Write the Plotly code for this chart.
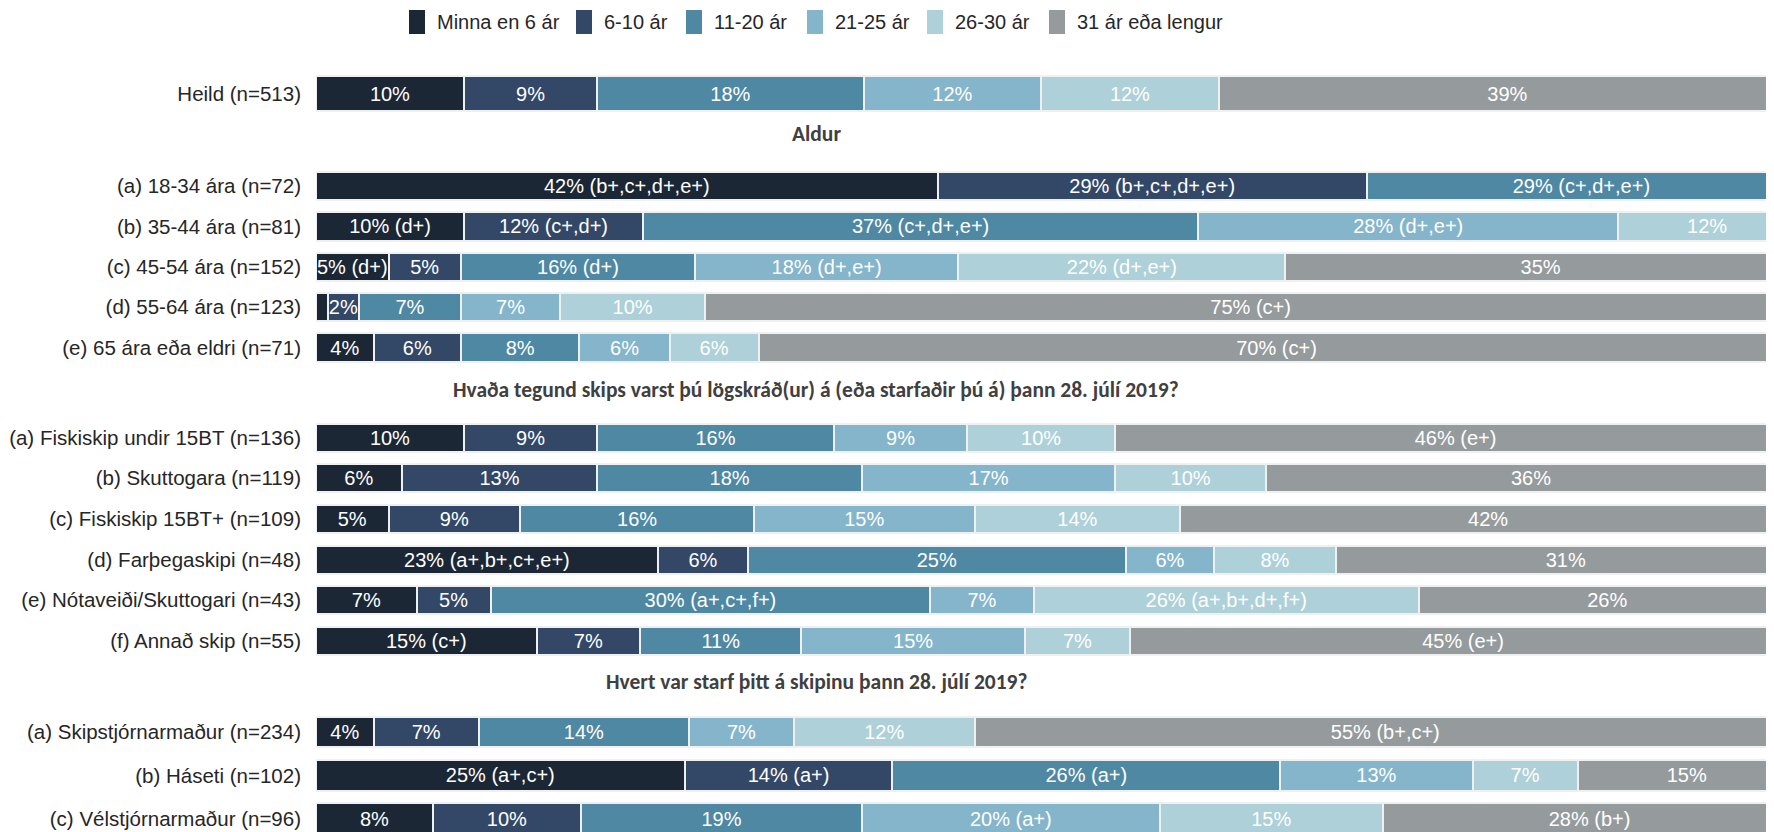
import plotly.graph_objects as go

# ---------------- data ----------------
series = ["Minna en 6 ár", "6-10 ár", "11-20 ár", "21-25 ár", "26-30 ár", "31 ár eða lengur"]

heild_rows = ["Heild (n=513)"]
heild_vals = [[10, 9, 18, 12, 12, 39]]
heild_text = [["10%", "9%", "18%", "12%", "12%", "39%"]]

aldur_title = "Aldur"
aldur_rows = ["(a) 18-34 ára (n=72)", "(b) 35-44 ára (n=81)", "(c) 45-54 ára (n=152)",
              "(d) 55-64 ára (n=123)", "(e) 65 ára eða eldri (n=71)"]
aldur_vals = [
    [42, 29, 29, 0, 0, 0],
    [10, 12.1, 37.5, 28.4, 12, 0],
    [4.9, 4.9, 15.8, 17.8, 22.1, 34.5],
    [0.8, 2.1, 6.9, 6.7, 9.8, 73.7],
    [3.9, 5.9, 8, 6.1, 6, 70],
]
aldur_text = [
    ["42% (b+,c+,d+,e+)", "29% (b+,c+,d+,e+)", "29% (c+,d+,e+)", "", "", ""],
    ["10% (d+)", "12% (c+,d+)", "37% (c+,d+,e+)", "28% (d+,e+)", "12%", ""],
    ["5% (d+)", "5%", "16% (d+)", "18% (d+,e+)", "22% (d+,e+)", "35%"],
    ["", "2%", "7%", "7%", "10%", "75% (c+)"],
    ["4%", "6%", "8%", "6%", "6%", "70% (c+)"],
]

skip_title = "Hvaða tegund skips varst þú lögskráð(ur) á (eða starfaðir þú á) þann 28. júlí 2019?"
skip_rows = ["(a) Fiskiskip undir 15BT (n=136)", "(b) Skuttogara (n=119)", "(c) Fiskiskip 15BT+ (n=109)",
             "(d) Farþegaskipi (n=48)", "(e) Nótaveiði/Skuttogari (n=43)", "(f) Annað skip (n=55)"]
skip_vals = [
    [10, 9, 16, 9, 10, 46],
    [5.8, 13.2, 17.9, 17.1, 10.2, 35.8],
    [4.9, 8.9, 15.8, 14.9, 13.9, 41.6],
    [23.1, 6.1, 25.5, 6.0, 8.2, 31.1],
    [6.8, 5.0, 29.7, 7.0, 26.0, 25.5],
    [14.9, 7.0, 10.9, 15.1, 7.1, 45],
]
skip_text = [
    ["10%", "9%", "16%", "9%", "10%", "46% (e+)"],
    ["6%", "13%", "18%", "17%", "10%", "36%"],
    ["5%", "9%", "16%", "15%", "14%", "42%"],
    ["23% (a+,b+,c+,e+)", "6%", "25%", "6%", "8%", "31%"],
    ["7%", "5%", "30% (a+,c+,f+)", "7%", "26% (a+,b+,d+,f+)", "26%"],
    ["15% (c+)", "7%", "11%", "15%", "7%", "45% (e+)"],
]

starf_title = "Hvert var starf þitt á skipinu þann 28. júlí 2019?"
starf_rows = ["(a) Skipstjórnarmaður (n=234)", "(b) Háseti (n=102)", "(c) Vélstjórnarmaður (n=96)"]
starf_vals = [
    [3.9, 7.1, 14.2, 7.1, 12.2, 55.5],
    [24.9, 14.05, 26.2, 13.0, 7.1, 14.75],
    [7.9, 10.0, 19.0, 20.1, 15.1, 27.9],
]
starf_text = [
    ["4%", "7%", "14%", "7%", "12%", "55% (b+,c+)"],
    ["25% (a+,c+)", "14% (a+)", "26% (a+)", "13%", "7%", "15%"],
    ["8%", "10%", "19%", "20% (a+)", "15%", "28% (b+)"],
]

# ---------------- style / geometry ----------------
colors = ["#1b2735", "#334766", "#4f88a3", "#85b5cb", "#aed0d8", "#959b9c"]
SCREEN_W, SCREEN_H = 1774, 832
BODY = 8                      # browser default body margin
FIG_W, FIG_H = SCREEN_W - BODY, SCREEN_H - BODY
LEFT = 316                    # screen x of the 0% line
PLOT_W = SCREEN_W - LEFT
PX_PER_PCT = 14.8
ARIAL = "Arial, Liberation Sans, sans-serif"
HEAD = "Calibri, Carlito, Lato, sans-serif"

sections = [
    (None, heild_rows, heild_vals, heild_text),
    (aldur_title, aldur_rows, aldur_vals, aldur_text),
    (skip_title, skip_rows, skip_vals, skip_text),
    (starf_title, starf_rows, starf_vals, starf_text),
]
# (screen top px of first row slot, row pitch px, bar thickness px, title center px)
geom = [(71.0, 45.0, 34.4, None), (165.8, 40.4, 28.3, 134), (417.15, 40.7, 28.0, 390), (710.75, 43.1, 30.3, 682)]
TITLE_X = 816
# legend geometry (screen px): swatch left edges, swatch size, vertical centre
legend_x = [409, 576, 686, 807, 927, 1049]
SW_W, SW_H, LEG_Y = 16, 24, 22
LEG_TEXT_GAP = 25.5


def sx(x):
    return (x - LEFT) / PLOT_W


def sy(y):
    return 1 - (y - BODY) / FIG_H


fig = go.Figure()
layout = {}
annotations = []
shapes = []
for i, ((title, rows, vals, texts), (top, pitch, thick, tpx)) in enumerate(zip(sections, geom)):
    k = "" if i == 0 else str(i + 1)
    xa, ya = "x" + k, "y" + k
    for j, name in enumerate(series):
        fig.add_trace(go.Bar(
            y=rows, x=[r[j] for r in vals], text=[t[j] for t in texts],
            orientation="h", name=name,
            marker=dict(color=colors[j], line=dict(color="#eef0f2", width=2)),
            width=thick / pitch, textposition="inside", insidetextanchor="middle",
            constraintext="none", textangle=0,
            textfont=dict(color="white", size=20, family=ARIAL),
            legendgroup=name, showlegend=False, xaxis=xa, yaxis=ya, hoverinfo="skip",
        ))
    n = len(rows)
    bottom = min(top + n * pitch, BODY + FIG_H)
    visible = (bottom - top) / pitch
    layout["yaxis" + k] = dict(
        domain=[max(0, sy(bottom)), sy(top)], range=[visible - 0.5, -0.5], type="category",
        categoryorder="array", categoryarray=rows, anchor=xa,
        showgrid=False, zeroline=False, showline=False, ticks="",
        ticklabelstandoff=14, automargin=False,
        tickfont=dict(size=20.5, color="#262626", family=ARIAL),
    )
    layout["xaxis" + k] = dict(
        domain=[0, 1], range=[0, PLOT_W / PX_PER_PCT], anchor=ya,
        visible=False, showgrid=False, zeroline=False, automargin=False,
    )
    if title:
        annotations.append(dict(
            text="<b>" + title + "</b>", x=sx(TITLE_X), y=sy(tpx),
            xref="paper", yref="paper", xanchor="center", yanchor="middle",
            showarrow=False, font=dict(size=21.5, color="#404040", family=HEAD),
        ))

# legend drawn as swatches + labels
for name, col, lx in zip(series, colors, legend_x):
    shapes.append(dict(type="rect", xref="paper", yref="paper",
                       x0=sx(lx), x1=sx(lx + SW_W), y0=sy(LEG_Y + SW_H / 2), y1=sy(LEG_Y - SW_H / 2),
                       fillcolor=col, line=dict(width=0), layer="above"))
    annotations.append(dict(text=name, x=sx(lx + LEG_TEXT_GAP), y=sy(LEG_Y), xref="paper", yref="paper",
                            xanchor="left", yanchor="middle", showarrow=False,
                            font=dict(size=20, color="#262626", family=ARIAL)))

fig.update_layout(
    template="none",
    width=FIG_W, height=FIG_H,
    margin=dict(l=LEFT - BODY, r=0, t=0, b=0, pad=0),
    barmode="stack",
    paper_bgcolor="white", plot_bgcolor="white",
    uniformtext=dict(minsize=20, mode="show"),
    showlegend=False,
    annotations=annotations,
    shapes=shapes,
    **layout,
)

fig.write_html("out.html")
